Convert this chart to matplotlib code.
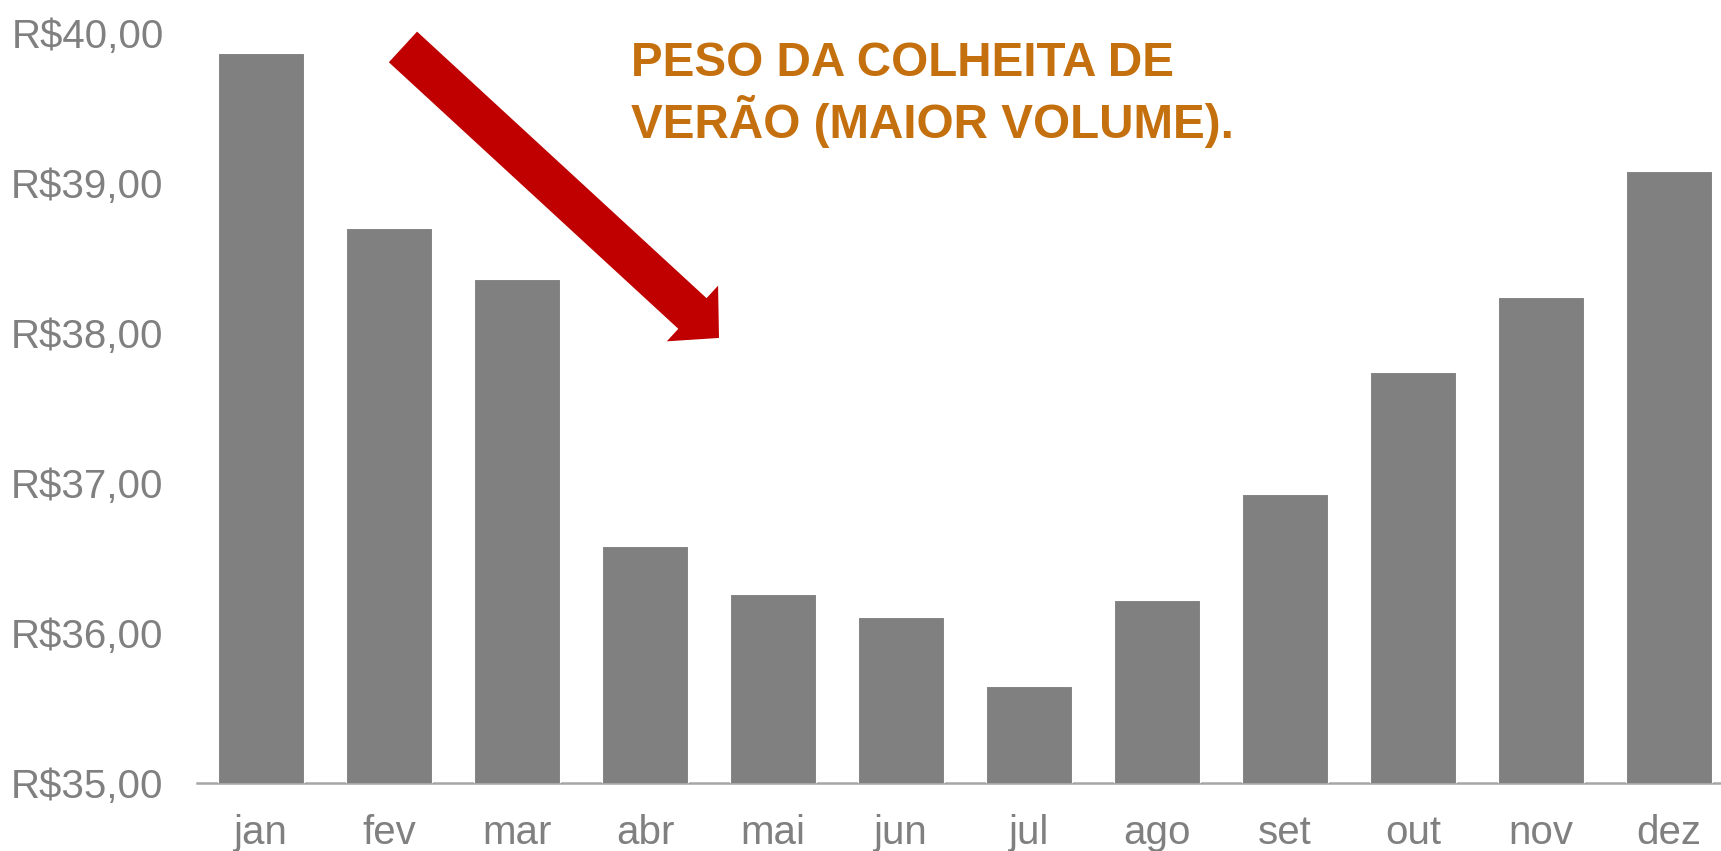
import matplotlib
matplotlib.use("Agg")
import matplotlib.pyplot as plt
import numpy as np

plt.rcParams['font.family'] = ['Liberation Sans', 'DejaVu Sans']

# preço médio mensal (R$)
meses = ["jan", "fev", "mar", "abr", "mai", "jun",
         "jul", "ago", "set", "out", "nov", "dez"]
precos = [39.87, 38.70, 38.36, 36.58, 36.26, 36.11,
          35.65, 36.22, 36.93, 37.74, 38.24, 39.08]
y_ticks = [35, 36, 37, 38, 39, 40]

texto = "PESO DA COLHEITA DE\nVERÃO (MAIOR VOLUME)."

W, H = 1721, 851
fig = plt.figure(figsize=(W / 100, H / 100), dpi=100, facecolor="white")
ax = fig.add_axes([197 / W, 68 / H, 1 - 197 / W, 750 / H])

x = np.arange(len(meses))
ax.bar(x, precos, width=0.67, bottom=0, color="#808080",
       edgecolor="white", linewidth=0.8, zorder=3)

ax.set_ylim(35, 40)
ax.set_xlim(-0.5, 11.406)
ax.set_xticks(x)
ax.set_xticklabels(meses)
ax.set_yticks(y_ticks)
ax.set_yticklabels([f"R${v:.2f}".replace(".", ",") for v in y_ticks])
ax.tick_params(axis="both", length=0, labelsize=29, colors="#808080")
ax.tick_params(axis="y", pad=24)
ax.tick_params(axis="x", pad=22)

for s in ["top", "right", "left"]:
    ax.spines[s].set_visible(False)
ax.spines["bottom"].set_color("#a6a6a6")
ax.spines["bottom"].set_linewidth(1.8)
ax.spines["bottom"].set_zorder(2)

# seta de queda
ax.annotate("", xy=(3.578, 37.967), xytext=(1.109, 39.907),
            xycoords="data", textcoords="data", annotation_clip=False,
            arrowprops=dict(arrowstyle="simple,head_length=0.52,head_width=1.09,tail_width=0.6",
                            mutation_scale=50, color="#c00000", lw=0,
                            shrinkA=0, shrinkB=0))

fig.text(631 / W, 1 - 41 / H, texto, ha="left", va="top",
         fontsize=34.3, fontweight="bold", color="#c5700e", linespacing=1.2)

fig.savefig("out.png", dpi=100, facecolor="white")
